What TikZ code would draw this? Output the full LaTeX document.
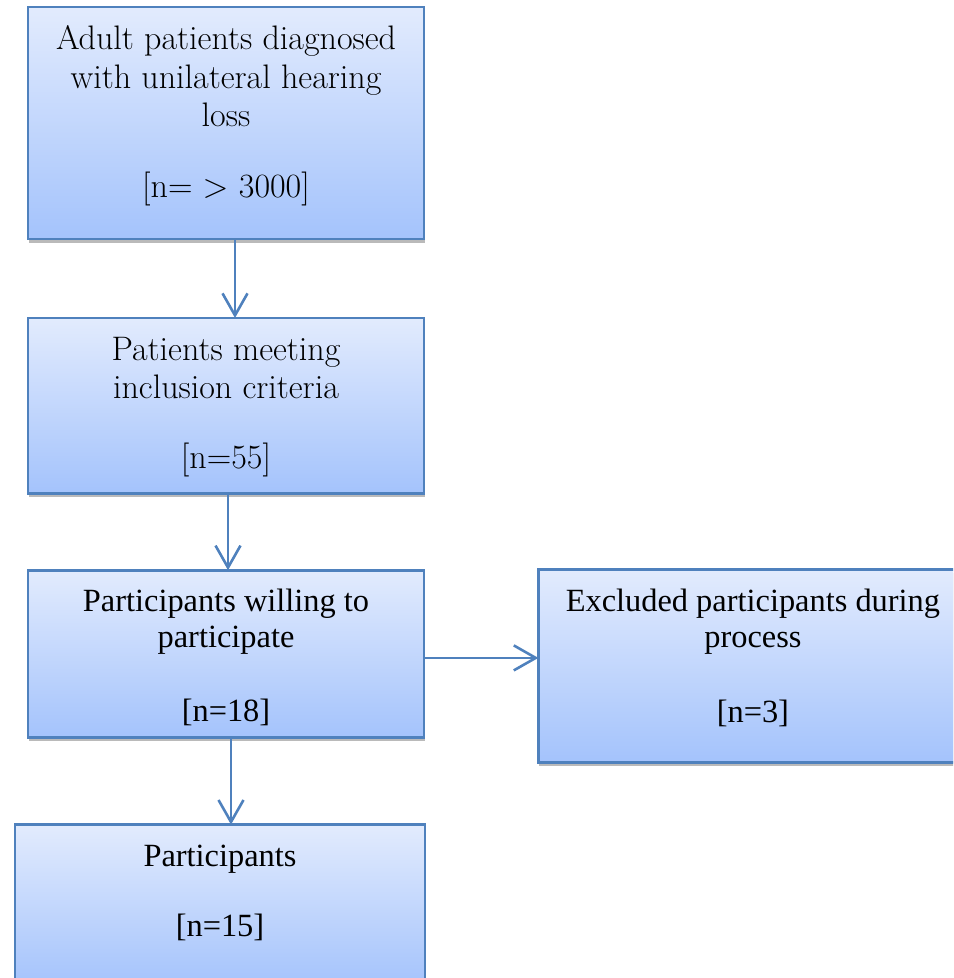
\documentclass[tikz,border=0pt]{standalone}
\usepackage{fontspec}
\usetikzlibrary{arrows.meta,positioning,shadows}
\newfontfamily\tnr{Liberation Serif}
\definecolor{edge}{HTML}{4F81BD}
\definecolor{topc}{HTML}{E2EBFD}
\definecolor{botc}{HTML}{A4C3FC}
\newcommand{\up}[1]{\rule{0pt}{#1}}
\newcommand{\dn}[1]{\rule[-#1]{0pt}{#1}}
\tikzset{
  box/.style={draw=edge,line width=1.3pt,top color=topc,bottom color=botc,align=center,inner ysep=0pt,inner xsep=4pt,outer sep=0pt,minimum width=198pt,
    drop shadow={shadow xshift=0.5pt,shadow yshift=-1.8pt,fill=black!45,opacity=.6}},
  cbox/.style={box,font=\fontsize{17}{19.2}\selectfont},
  tbox/.style={box,font=\tnr\fontsize{16.2}{18}\selectfont},
  ar/.style={-{Straight Barb[length=11pt,width=12.5pt]},line width=1.3pt,draw=edge},
}
\begin{document}
\begin{tikzpicture}
  \useasboundingbox (0,0) rectangle (476.5pt,-489pt);
  \clip (0,0) rectangle (476.5pt,-489pt);
  \node[cbox,anchor=north] (b1) at (113pt,-3.5pt) {\up{21.5pt}Adult patients diagnosed\\with unilateral hearing\\loss\\[16.4pt]{[n= > 3000]}\dn{20.5pt}};
  \node[cbox,below=39.5pt of b1] (b2) {\up{21pt}Patients meeting\\inclusion criteria\\[15.7pt]{[n=55]}\dn{12.5pt}};
  \node[tbox,below=38.5pt of b2] (b3) {\up{20.8pt}Participants willing to\\participate\\[18.7pt]{[n=18]}\dn{8.2pt}};
  \node[tbox,minimum width=214.5pt,right=57.2pt of b3.north east,anchor=north west,yshift=0.5pt] (b4)
    {\up{21.3pt}Excluded participants during\\process\\[19.5pt]{[n=3]}\dn{19.7pt}};
  \node[tbox,minimum width=205pt,below=43.5pt of b3.south west,anchor=north west,xshift=-6.5pt] (b5)
    {\up{20.8pt}Participants\\[17.2pt]{[n=15]}\dn{25pt}};
  \draw[ar] ([xshift=4.5pt]b1.south) -- ([xshift=4.5pt]b1.south |- b2.north);
  \draw[ar] ([xshift=1pt]b2.south) -- ([xshift=1pt]b2.south |- b3.north);
  \draw[ar] ([xshift=2.5pt]b3.south) -- ([xshift=2.5pt]b3.south |- b5.north);
  \draw[ar] ([yshift=-2pt]b3.east) -- ([yshift=-2pt]b3.east -| b4.west);
\end{tikzpicture}
\end{document}
